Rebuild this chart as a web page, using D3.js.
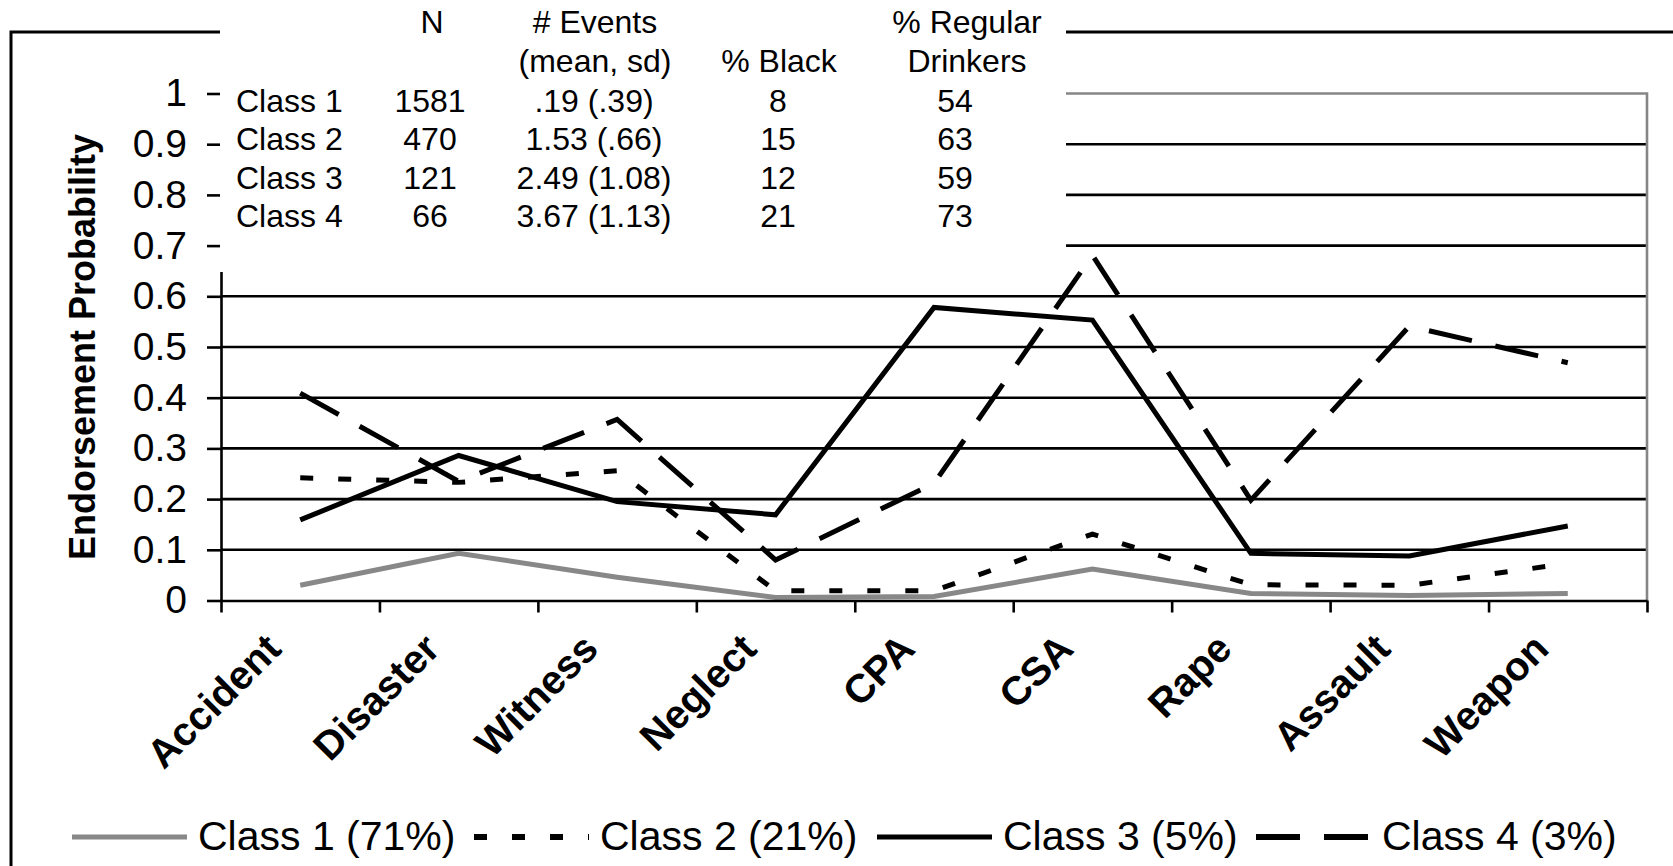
<!DOCTYPE html>
<html>
<head>
<meta charset="utf-8">
<script src="https://cdn.jsdelivr.net/npm/d3@7"></script>
<style>
  body { margin: 0; background: #fff; }
  text { font-family: "Liberation Sans", Arial, sans-serif; fill: #000; }
</style>
</head>
<body>
<div id="chart"></div>
<script>
// categories on the x axis
const categories = ["Accident", "Disaster", "Witness", "Neglect", "CPA", "CSA", "Rape", "Assault", "Weapon"]

// endorsement probabilities
const class1 = [0.03, 0.093, 0.046, 0.006, 0.008, 0.062, 0.014, 0.01, 0.014]
const class2 = [0.242, 0.233, 0.256, 0.019, 0.019, 0.131, 0.031, 0.03, 0.073]
const class3 = [0.159, 0.286, 0.195, 0.169, 0.578, 0.553, 0.093, 0.088, 0.147]
const class4 = [0.409, 0.235, 0.357, 0.08, 0.231, 0.681, 0.198, 0.541, 0.469]

const seriesNames = ["Class 1 (71%)", "Class 2 (21%)", "Class 3 (5%)", "Class 4 (3%)"]
const yTicks = [0, 0.1, 0.2, 0.3, 0.4, 0.5, 0.6, 0.7, 0.8, 0.9, 1]

// inset table
const tableRows = ["Class 1", "Class 2", "Class 3", "Class 4"]
const tableN = ["1581", "470", "121", "66"]
const tableEvents = [".19 (.39)", "1.53 (.66)", "2.49 (1.08)", "3.67 (1.13)"]
const tableBlack = ["8", "15", "12", "21"]
const tableDrinkers = ["54", "63", "59", "73"]

const width = 1673, height = 866
const plot = { left: 221, right: 1647, top: 93.5, bottom: 600.5 }

const svg = d3.select("#chart").append("svg")
    .attr("width", width)
    .attr("height", height)
    .attr("viewBox", [0, 0, width, height])

// escalas
const x = d3.scaleBand().domain(categories).range([plot.left, plot.right])
const cx = d => x(d) + x.bandwidth() / 2
const xEdges = d3.scaleLinear().domain([0, categories.length]).range([plot.left, plot.right])
const y = d3.scaleLinear().domain([0, 1]).range([plot.bottom, plot.top])

// outer frame
svg.append("path")
    .attr("d", `M220,32H11V${height} M1066,32H${width}`)
    .attr("fill", "none").attr("stroke", "#000").attr("stroke-width", 3)

// gridlines
svg.append("g").selectAll("line")
    .data(yTicks.filter(d => d > 0 && d < 1))
    .join("line")
    .attr("x1", plot.left).attr("x2", plot.right)
    .attr("y1", d => y(d)).attr("y2", d => y(d))
    .attr("stroke", "#000").attr("stroke-width", 2.6)

// plot area border (top, right)
svg.append("path")
    .attr("d", `M${plot.left},${y(1)}H${plot.right}V${y(0)}`)
    .attr("fill", "none").attr("stroke", "#868686").attr("stroke-width", 2.6)

// series lines
const line = d3.line().x((d, i) => cx(categories[i])).y(d => y(d))
const styles = [
    { data: class1, color: "#888888", dash: null },
    { data: class2, color: "#000", dash: "13,25" },
    { data: class3, color: "#000", dash: null },
    { data: class4, color: "#000", dash: "44,24" }
]
svg.append("g").selectAll("path")
    .data(styles)
    .join("path")
    .attr("d", d => line(d.data))
    .attr("fill", "none")
    .attr("stroke", d => d.color)
    .attr("stroke-width", 5)
    .attr("stroke-dasharray", d => d.dash)

// y axis
const yAxis = svg.append("g")
    .attr("transform", `translate(${plot.left},0)`)
    .call(d3.axisLeft(y).tickValues(yTicks).tickFormat(d => String(d)).tickSize(14).tickSizeOuter(0).tickPadding(20))
yAxis.select(".domain").attr("stroke", "#000").attr("stroke-width", 2.6)
yAxis.selectAll(".tick line").attr("stroke", "#000").attr("stroke-width", 2.6)
yAxis.selectAll(".tick text").attr("font-size", 39).attr("font-family", "Liberation Sans, Arial, sans-serif")

// x axis (ticks between categories)
const xAxis = svg.append("g")
    .attr("transform", `translate(0,${plot.bottom})`)
    .call(d3.axisBottom(xEdges).tickValues(d3.range(categories.length + 1)).tickFormat("").tickSize(12).tickSizeOuter(0))
xAxis.select(".domain").attr("stroke", "#000").attr("stroke-width", 2.6)
xAxis.selectAll(".tick line").attr("stroke", "#000").attr("stroke-width", 2.6)

// category labels
svg.append("g").selectAll("text")
    .data(categories)
    .join("text")
    .attr("transform", d => `translate(${cx(d) - 17},651) rotate(-45)`)
    .attr("text-anchor", "end")
    .attr("font-size", 40)
    .attr("font-weight", "bold")
    .text(d => d)

// y axis title
svg.append("text")
    .attr("transform", "translate(95,347) rotate(-90)")
    .attr("text-anchor", "middle")
    .attr("font-size", 36)
    .attr("font-weight", "bold")
    .text("Endorsement Probability")

// inset table box
svg.append("rect")
    .attr("x", 220).attr("y", 0).attr("width", 846).attr("height", 272)
    .attr("fill", "#fff")

const table = svg.append("g").attr("font-size", 32)
const rowY = i => 112 + i * 38.3
const headers = [
    { t: "N", x: 432, y: 33 },
    { t: "# Events", x: 595, y: 33 },
    { t: "(mean, sd)", x: 595, y: 72 },
    { t: "% Black", x: 779, y: 72 },
    { t: "% Regular", x: 967, y: 33 },
    { t: "Drinkers", x: 967, y: 72 }
]
table.selectAll("text.h")
    .data(headers)
    .join("text")
    .attr("class", "h")
    .attr("x", d => d.x).attr("y", d => d.y)
    .attr("text-anchor", "middle")
    .text(d => d.t)

const columns = [
    { vals: tableRows, x: 236, anchor: "start" },
    { vals: tableN, x: 430, anchor: "middle" },
    { vals: tableEvents, x: 594, anchor: "middle" },
    { vals: tableBlack, x: 778, anchor: "middle" },
    { vals: tableDrinkers, x: 955, anchor: "middle" }
]
columns.forEach(col => {
    table.append("g").selectAll("text")
        .data(col.vals)
        .join("text")
        .attr("x", col.x)
        .attr("y", (d, i) => rowY(i))
        .attr("text-anchor", col.anchor)
        .text(d => d)
})

// legend
const legendX = [72, 474, 877, 1256]
const legend = svg.append("g").selectAll("g")
    .data(styles)
    .join("g")
    .attr("transform", (d, i) => `translate(${legendX[i]},837)`)
legend.append("line")
    .attr("x1", 0).attr("x2", 115)
    .attr("stroke", d => d.color)
    .attr("stroke-width", d => d.dash ? 6 : 5)
    .attr("stroke-dasharray", d => d.dash)
legend.append("text")
    .attr("x", 126)
    .attr("y", 13)
    .attr("font-size", 41)
    .text((d, i) => seriesNames[i])
</script>
</body>
</html>
